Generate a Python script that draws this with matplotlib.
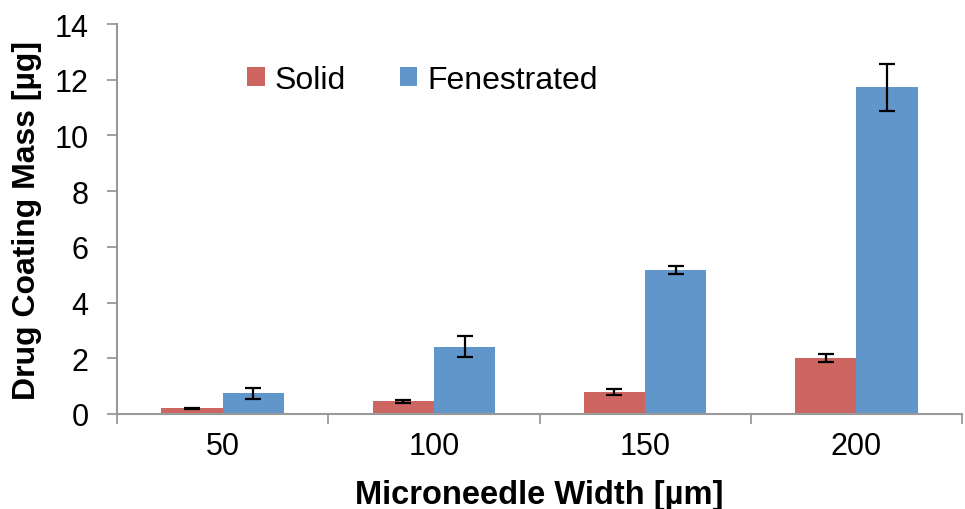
import numpy as np
import matplotlib.pyplot as plt

plt.rcParams['font.family'] = ['Liberation Sans', 'DejaVu Sans']

widths = ['50', '100', '150', '200']
solid = [0.20, 0.46, 0.80, 2.00]
solid_err = [0.02, 0.06, 0.10, 0.15]
fenestrated = [0.75, 2.42, 5.17, 11.73]
fenestrated_err = [0.20, 0.37, 0.13, 0.85]

fig = plt.figure(figsize=(9.65, 5.1), dpi=100)
ax = fig.add_axes([117/965, 95/510, 845/965, 390/510])

x = np.arange(len(widths))
w = 0.29
errkw = dict(ecolor='black', elinewidth=1.6, capsize=6, capthick=1.6)
ax.bar(x - w/2, solid, w, yerr=solid_err, color='#CD6660', label='Solid', error_kw=errkw)
ax.bar(x + w/2, fenestrated, w, yerr=fenestrated_err, color='#6196CA', label='Fenestrated', error_kw=errkw)

ax.set_xlim(-0.5, len(widths) - 0.5)
ax.set_ylim(0, 14)
ax.set_yticks(range(0, 15, 2))
ax.set_xticks(x)
ax.set_xticklabels(widths, fontsize=22)
ax.tick_params(axis='x', length=0, pad=12)
ax.set_xticks(np.arange(len(widths) + 1) - 0.5, minor=True)
ax.tick_params(axis='x', which='minor', length=7, width=1.3, color='#999999', direction='out')
ax.tick_params(axis='y', labelsize=22, length=7.5, width=1.3, color='#999999', pad=13)

for s in ['top', 'right']:
    ax.spines[s].set_visible(False)
for s in ['left', 'bottom']:
    ax.spines[s].set_color('#999999')
    ax.spines[s].set_linewidth(1.5)

ax.set_xlabel('Microneedle Width [µm]', fontsize=23.5, fontweight='bold', labelpad=13)
ax.set_ylabel('Drug Coating Mass [µg]', fontsize=23, fontweight='bold', labelpad=9)

ax.legend(loc='upper left', bbox_to_anchor=(0.154, 0.895), ncol=2, frameon=False,
          borderpad=0, borderaxespad=0, fontsize=23, handlelength=0.55, handleheight=0.55,
          columnspacing=1.7, handletextpad=0.3)

fig.savefig('out.png', dpi=100)
